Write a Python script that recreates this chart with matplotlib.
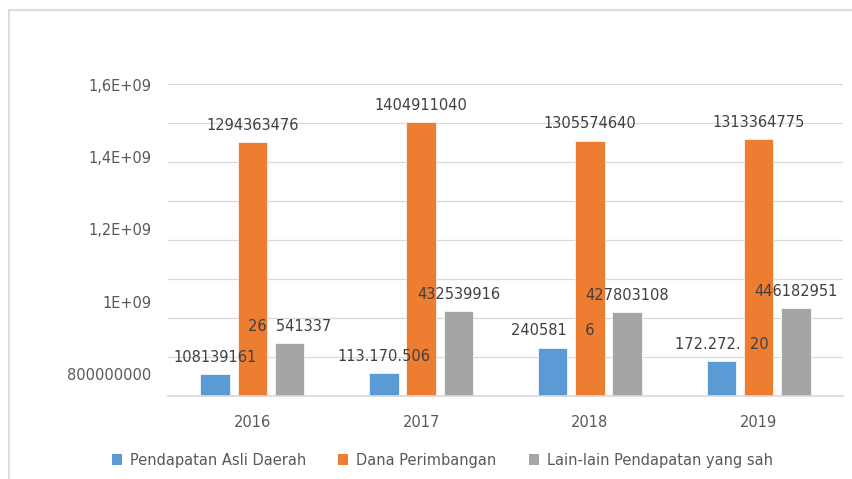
import matplotlib
matplotlib.use("Agg")
import matplotlib.pyplot as plt
from matplotlib.patches import Patch, Rectangle
import numpy as np

years = ["2016", "2017", "2018", "2019"]
series_names = ["Pendapatan Asli Daerah", "Dana Perimbangan", "Lain-lain Pendapatan yang sah"]

# bar heights as read against the y axis labels
pad = [0.799e9, 0.802e9, 0.873e9, 0.836e9]
dana = [1.442e9, 1.498e9, 1.446e9, 1.450e9]
lain = [0.885e9, 0.975e9, 0.971e9, 0.982e9]

# data labels as printed on the chart (partly covered in the original)
pad_labels = ["108139161", "113.170.506", "240581\u2007\u20076", "172.272.\u200720"]
dana_labels = ["1294363476", "1404911040", "1305574640", "1313364775"]
lain_labels = ["26\u2007541337", "432539916", "427803108", "446182951"]

ytick_vals = [800000000, 1.0e9, 1.2e9, 1.4e9, 1.6e9]
ytick_labels = ["800000000", "1E+09", "1,2E+09", "1,4E+09", "1,6E+09"]

colors = ["#5B9BD5", "#ED7D31", "#A5A5A5"]
text_col = "#595959"
label_col = "#404040"

plt.rcParams["font.family"] = "DejaVu Sans"

fig = plt.figure(figsize=(8.52, 4.79), dpi=100)
ax = fig.add_axes([168 / 852, 1 - 396 / 479, (843 - 168) / 852, (396 - 83.5) / 479])

ylo, yhi = 0.7391e9, 1.60415e9
ax.set_ylim(ylo, yhi)
ax.set_xlim(-0.5, 3.5)

x = np.arange(len(years))
w = 0.175
off = 0.221

for i, (vals, labs) in enumerate([(pad, pad_labels), (dana, dana_labels), (lain, lain_labels)]):
    xs = x + (i - 1) * off
    ax.bar(xs, vals, width=w, color=colors[i], edgecolor="white", linewidth=0.5, zorder=2)
    for xx, v, lab in zip(xs, vals, labs):
        ax.annotate(lab, (xx, v), xytext=(0, 12), textcoords="offset points",
                    ha="center", va="center", fontsize=10.5, color=label_col, zorder=3)

# gridlines evenly spaced, tick labels placed on their own scale
ax.set_yticks(np.linspace(ylo, yhi, 9), minor=True)
ax.grid(True, which="minor", axis="y", color="#d9d9d9", linewidth=0.9, zorder=0)
ax.set_yticks(ytick_vals)
ax.set_yticklabels(ytick_labels)
ax.tick_params(axis="y", which="both", length=0, pad=12, labelsize=10.5, labelcolor=text_col)

ax.set_xticks(x)
ax.set_xticklabels(years)
ax.tick_params(axis="x", length=0, pad=14, labelsize=10.5, labelcolor=text_col)

for s in ["top", "right", "left"]:
    ax.spines[s].set_visible(False)
ax.spines["bottom"].set_color("#d9d9d9")
ax.spines["bottom"].set_linewidth(1.2)

handles = [Patch(facecolor=c, edgecolor="none") for c in colors]
leg = fig.legend(handles, series_names, loc="center", bbox_to_anchor=(0.519, 1 - 460 / 479),
                 ncol=3, frameon=False, fontsize=10.5, handlelength=0.7, handleheight=0.7,
                 handletextpad=0.55, columnspacing=2.2)
for t in leg.get_texts():
    t.set_color(text_col)

# outer chart border, cut off at right and bottom like the screenshot
fig.add_artist(Rectangle((9 / 852, -0.1), 1.2, 1.1 - 10 / 479, transform=fig.transFigure,
                         facecolor="none", edgecolor="#dcdcdc", linewidth=1.5))

fig.savefig("out.png", dpi=100)
